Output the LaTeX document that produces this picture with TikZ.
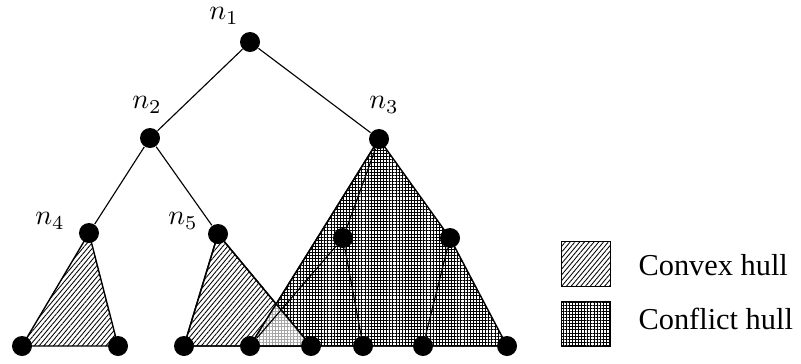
\documentclass[tikz,border=0pt]{standalone}
\usepackage{fontspec}
\setmainfont{Liberation Serif}
\usetikzlibrary{patterns.meta,positioning,backgrounds}

\tikzset{
  vert/.style={circle,fill=black,inner sep=0pt,minimum size=0.25cm},
  nlabel/.style={font=\fontsize{10}{12}\selectfont},
  convexfill/.style={pattern={Lines[angle=50,distance=1.3pt,line width=0.3pt]}},
  conflictfill/.style={pattern={Hatch[angle=0,distance=1.1pt,line width=0.35pt]}},
  overlapfill/.style={pattern={Hatch[angle=0,distance=1.1pt,line width=0.3pt]},pattern color=gray!70},
  hull/.style={line width=0.5pt},
  keybox/.style={draw,line width=0.4pt,minimum width=0.61cm,minimum height=0.56cm,inner sep=0pt},
  keytext/.style={anchor=west,inner sep=0pt,font=\fontsize{10.8}{13}\selectfont}
}

\begin{document}
\begin{tikzpicture}[x=0.0125cm,y=-0.0125cm]
  \useasboundingbox (0,0) rectangle (801,364);
  % inner nodes
  \node[vert] (n1) at (250,42) {};
  \node[vert] (n2) at (150,138) {};
  \node[vert] (n3) at (379,139) {};
  \node[vert] (n4) at (89,233) {};
  \node[vert] (n5) at (218,234) {};
  \node[vert] (m1) at (343,238) {};
  \node[vert] (m2) at (450,238) {};
  % leaves
  \node[vert] (l1) at (22,346) {};
  \node[vert] (l2) at (118,346) {};
  \node[vert] (l3) at (184,346) {};
  \node[vert] (l4) at (250,346) {};
  \node[vert] (l5) at (311,346) {};
  \node[vert] (l6) at (363,346) {};
  \node[vert] (l7) at (423,346) {};
  \node[vert] (l8) at (507,346) {};
  % labels
  \node[nlabel] (t1) at (224,16) {$n_1$};
  \node[nlabel] (t2) at (147,105) {$n_2$};
  \node[nlabel] (t3) at (384,105) {$n_3$};
  \node[nlabel] (t4) at (50,221) {$n_4$};
  \node[nlabel] (t5) at (183,221) {$n_5$};
  \begin{scope}[on background layer]
    % hulls
    \draw[hull,conflictfill] (n3.center) -- (l4.center) -- (l8.center) -- (m2.center) -- cycle;
    \draw[hull,convexfill] (n4.center) -- (l1.center) -- (l2.center) -- cycle;
    \draw[hull,convexfill] (n5.center) -- (l3.center) -- (l5.center) -- cycle;
    \begin{scope}
      \clip (n5.center) -- (l3.center) -- (l5.center) -- cycle;
      \fill[white] (n3.center) -- (l4.center) -- (l8.center) -- cycle;
      \fill[overlapfill] (n3.center) -- (l4.center) -- (l8.center) -- cycle;
    \end{scope}
    \draw[hull] (n5.center) -- (l3.center) -- (l5.center) -- cycle;
    \draw[hull] (n3.center) -- (l4.center) -- (l8.center);
    % tree edges
    \draw (n1) -- (n2);
    \draw (n1) -- (n3);
    \draw (n2) -- (n4);
    \draw (n2) -- (n5);
    \draw (n3) -- (m1);
    \draw (m1) -- (l4);
    \draw (m1) -- (l6);
    \draw (m2) -- (l7);
  \end{scope}
  % legend
  \node[keybox,convexfill] (convexkey) at (586,264) {};
  \node[keybox,conflictfill] (conflictkey) at (586,324) {};
  \node[keytext] (convextext) at (638,265) {Convex hull};
  \node[keytext] (conflicttext) at (638,319) {Conflict hull};
\end{tikzpicture}
\end{document}
